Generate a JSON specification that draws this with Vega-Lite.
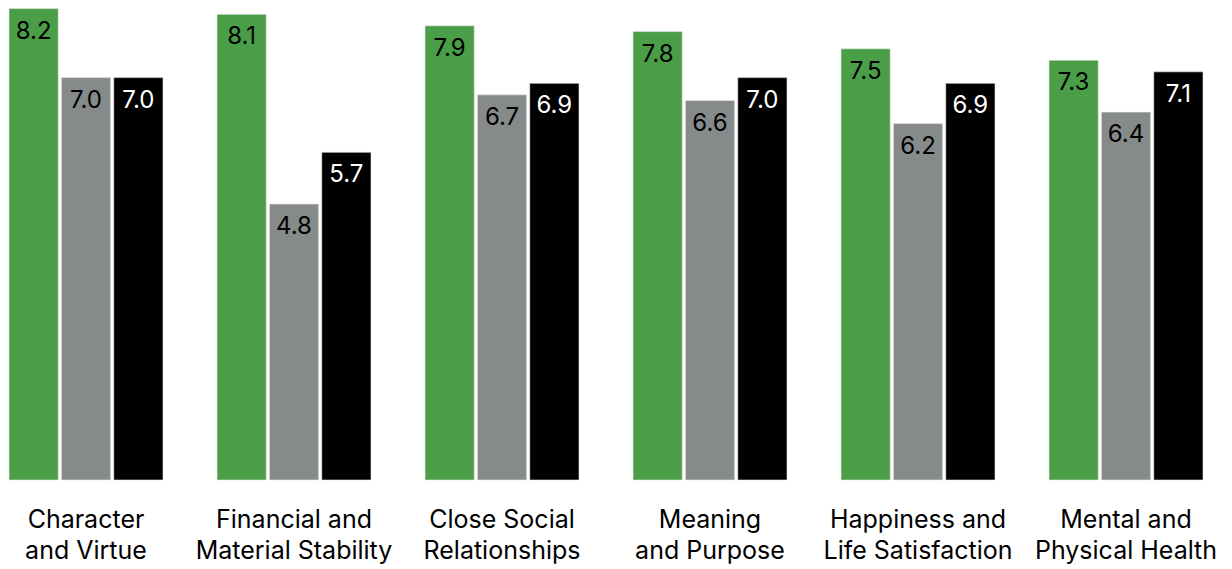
{
  "$schema": "https://vega.github.io/schema/vega-lite/v6.json",
  "width": 1194,
  "height": 480,
  "autosize": {"type": "none"},
  "padding": {"left": 9, "top": 0, "right": 29, "bottom": 89},
  "background": "white",
  "config": {"view": {"stroke": null}, "font": "Inter"},
  "data": {
    "values": [
      {"category": "Character|and Virtue", "series": "A", "value": 8.2},
      {"category": "Character|and Virtue", "series": "B", "value": 7.0},
      {"category": "Character|and Virtue", "series": "C", "value": 7.0},
      {"category": "Financial and|Material Stability", "series": "A", "value": 8.1},
      {"category": "Financial and|Material Stability", "series": "B", "value": 4.8},
      {"category": "Financial and|Material Stability", "series": "C", "value": 5.7},
      {"category": "Close Social|Relationships", "series": "A", "value": 7.9},
      {"category": "Close Social|Relationships", "series": "B", "value": 6.7},
      {"category": "Close Social|Relationships", "series": "C", "value": 6.9},
      {"category": "Meaning|and Purpose", "series": "A", "value": 7.8},
      {"category": "Meaning|and Purpose", "series": "B", "value": 6.6},
      {"category": "Meaning|and Purpose", "series": "C", "value": 7.0},
      {"category": "Happiness and|Life Satisfaction", "series": "A", "value": 7.5},
      {"category": "Happiness and|Life Satisfaction", "series": "B", "value": 6.2},
      {"category": "Happiness and|Life Satisfaction", "series": "C", "value": 6.9},
      {"category": "Mental and|Physical Health", "series": "A", "value": 7.3},
      {"category": "Mental and|Physical Health", "series": "B", "value": 6.4},
      {"category": "Mental and|Physical Health", "series": "C", "value": 7.1}
    ]
  },
  "encoding": {
    "x": {
      "field": "category",
      "type": "nominal",
      "sort": null,
      "scale": {"paddingInner": 0.2596, "paddingOuter": 0},
      "axis": {
        "title": null,
        "domain": false,
        "ticks": false,
        "labelAngle": 0,
        "labelFontSize": 25,
        "labelColor": "#000000",
        "labelLineHeight": 31,
        "labelPadding": 27,
        "labelLimit": 400,
        "labelOverlap": false,
        "labelExpr": "split(datum.label, '|')"
      }
    },
    "xOffset": {
      "field": "series",
      "type": "nominal",
      "scale": {"paddingInner": 0.06, "paddingOuter": 0}
    },
    "y": {
      "field": "value",
      "type": "quantitative",
      "scale": {"domain": [0, 8.35], "nice": false},
      "axis": null
    }
  },
  "layer": [
    {
      "mark": {"type": "bar", "stroke": "#e8e8e8", "strokeWidth": 0.6},
      "encoding": {
        "color": {
          "field": "series",
          "type": "nominal",
          "scale": {"domain": ["A", "B", "C"], "range": ["#4a9e47", "#868a8a", "#000000"]},
          "legend": null
        }
      }
    },
    {
      "mark": {"type": "text", "baseline": "middle", "dy": 23, "fontSize": 24},
      "encoding": {
        "text": {"field": "value", "type": "quantitative", "format": ".1f"},
        "color": {
          "condition": {"test": "datum.series === 'C'", "value": "#ffffff"},
          "value": "#000000"
        }
      }
    }
  ]
}
